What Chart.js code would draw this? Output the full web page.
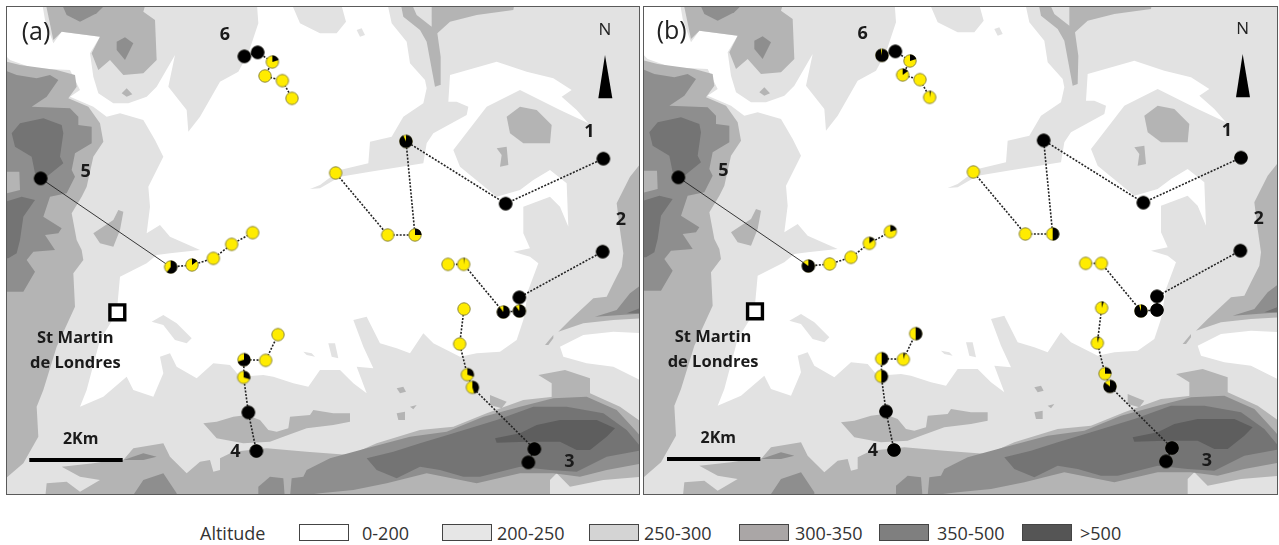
<!DOCTYPE html>
<html>
<head>
<meta charset="utf-8">
<style>
html, body { margin:0; padding:0; background:#fff; width:1279px; height:545px; overflow:hidden; }
canvas { position:absolute; top:7px; box-sizing:content-box; filter:blur(0.45px); outline:1.5px solid #5a5a5a; }
#mapA { left:7px; }
#mapB { left:644px; }
.lg { position:absolute; font:18px "Open Sans",sans-serif; color:#333; top:522px; line-height:22px; white-space:nowrap; }
.sw { position:absolute; top:524px; width:48px; height:15px; border:1.5px solid #444; box-sizing:content-box; }
</style>
<script src="https://cdn.jsdelivr.net/npm/chart.js@4/dist/chart.umd.min.js"></script>
</head>
<body>
<canvas id="mapA" width="632" height="487"></canvas>
<canvas id="mapB" width="633" height="487"></canvas>
<script>
// map units are 1/3 of a screen pixel
const altitudeLabels = ['0-200', '200-250', '250-300', '300-350', '350-500', '>500']
const altitudeColors = ['#ffffff', '#e6e6e6', '#d4d4d4', '#aaa6a6', '#7f7f7f', '#555555']

const terrainBase = [
  [[0,0],[2000,0],[2000,1600],[0,1600]]
]
const terrainWhite = [
  [[0,0],[125,0],[135,60],[160,130],[185,95],[300,110],[270,160],[280,230],[295,280],[340,310],[385,310],[440,290],[470,260],[525,165],[505,260],[560,330],[565,395],[600,350],[660,245],[715,215],[745,160],[775,70],[770,0],[870,0],[900,70],[960,100],[1010,100],[1038,65],[1020,0],[1160,0],[1175,70],[1220,125],[1230,190],[1275,240],[1280,265],[1270,310],[1210,350],[1175,410],[1110,425],[1105,490],[1020,510],[960,555],[930,567],[960,565],[1020,530],[1110,515],[1270,490],[1280,430],[1300,400],[1400,345],[1405,320],[1370,305],[1345,305],[1350,225],[1490,185],[1580,215],[1660,235],[1715,270],[1685,290],[1730,330],[1765,370],[1680,330],[1560,270],[1460,320],[1360,450],[1380,500],[1490,590],[1560,570],[1600,540],[1650,510],[1700,550],[1705,680],[1680,620],[1650,590],[1570,620],[1570,700],[1590,745],[1540,755],[1590,770],[1615,790],[1585,870],[1570,960],[1550,1020],[1500,1055],[1430,1060],[1380,1070],[1300,1030],[1270,1000],[1230,1060],[1190,1045],[1140,1030],[1100,950],[1060,960],[1090,1040],[1120,1105],[1070,1100],[1100,1180],[1060,1150],[1020,1110],[960,1110],[925,1160],[880,1150],[820,1130],[790,1125],[720,1130],[690,1095],[640,1090],[590,1135],[530,1100],[510,1060],[480,1070],[490,1120],[460,1190],[400,1170],[380,1130],[310,1190],[240,1220],[260,1170],[300,1020],[350,940],[360,830],[440,790],[470,765],[510,760],[600,750],[510,710],[480,675],[440,700],[450,620],[445,560],[490,470],[465,420],[430,360],[360,340],[320,350],[280,320],[210,290],[240,270],[210,210],[100,205],[30,180],[0,150]],
  [[1680,1040],[1750,1005],[1840,995],[1930,1000],[1930,1145],[1840,1100],[1760,1090],[1690,1070]]
]
const terrainLight = [
  [[1070,90],[1085,85],[1095,105],[1080,110]],
  [[455,965],[490,945],[530,970],[575,1015],[560,1030],[525,1020],[490,975]],
  [[985,1030],[1005,1030],[1015,1075],[995,1070]],
  [[910,1055],[935,1060],[945,1070],[920,1065]]
]
const terrainMid = [
  [[135,0],[160,120],[185,95],[300,110],[275,160],[295,210],[330,180],[370,225],[430,220],[470,180],[465,60],[430,35],[440,0]],
  [[380,265],[365,280],[380,290],[397,283]],
  [[0,180],[60,195],[170,210],[225,225],[230,260],[205,295],[265,320],[300,370],[310,425],[280,470],[260,560],[245,590],[215,640],[230,720],[245,750],[250,780],[220,820],[225,920],[170,1040],[130,1170],[110,1220],[115,1310],[70,1390],[0,1450]],
  [[280,700],[340,660],[355,630],[370,635],[360,690],[340,740],[300,730]],
  [[1200,0],[1210,50],[1260,90],[1280,125],[1305,260],[1320,255],[1322,170],[1312,100],[1350,65],[1430,45],[1540,30],[1545,0],[1295,0],[1295,80],[1250,45],[1230,0]],
  [[1520,350],[1560,320],[1610,330],[1655,375],[1650,430],[1570,430],[1530,400]],
  [[1490,445],[1520,440],[1525,495],[1500,500],[1505,465]],
  [[1930,480],[1890,530],[1850,610],[1860,690],[1870,760],[1865,800],[1840,850],[1820,890],[1780,895],[1710,960],[1675,995],[1750,970],[1840,960],[1930,955]],
  [[1635,1035],[1660,1005],[1660,1015],[1645,1035]],
  [[135,1500],[140,1450],[200,1445],[240,1475],[300,1440],[240,1430],[185,1400],[280,1390],[340,1380],[370,1380],[400,1345],[490,1330],[510,1370],[560,1420],[600,1385],[630,1380],[640,1415],[660,1410],[660,1375],[700,1355],[800,1345],[920,1355],[1050,1365],[1130,1330],[1260,1290],[1360,1280],[1460,1240],[1570,1200],[1660,1190],[1770,1180],[1860,1220],[1930,1270],[1930,1500]],
  [[1615,1125],[1695,1110],[1770,1135],[1770,1185],[1655,1195],[1655,1150]],
  [[1470,1185],[1520,1205],[1505,1225],[1470,1215]],
  [[610,1270],[650,1265],[700,1250],[740,1245],[780,1260],[805,1290],[830,1295],[865,1285],[870,1250],[930,1245],[940,1230],[1000,1240],[1050,1240],[1050,1265],[1000,1275],[920,1285],[850,1310],[810,1325],[730,1330],[650,1315]],
  [[1190,1165],[1210,1160],[1218,1175],[1200,1180]],
  [[1190,1240],[1215,1235],[1215,1260],[1195,1260]],
  [[1230,1220],[1250,1215],[1240,1228]]
]
const terrainLightTop = [
  [[1650,1500],[1650,1440],[1670,1420],[1710,1460],[1810,1440],[1930,1430],[1930,1500]]
]
const terrainHigh = [
  [[180,0],[330,0],[290,40],[240,65],[200,45]],
  [[350,125],[375,112],[400,130],[375,180],[350,150]],
  [[0,205],[50,225],[110,235],[150,225],[175,240],[140,290],[95,320],[210,325],[235,350],[235,375],[275,380],[275,430],[225,460],[215,510],[225,530],[200,580],[150,590],[130,650],[185,685],[175,700],[135,705],[165,750],[100,755],[80,780],[105,815],[70,875],[0,875]],
  [[870,1490],[875,1435],[910,1430],[920,1410],[990,1375],[1100,1345],[1230,1310],[1340,1295],[1450,1250],[1560,1220],[1660,1195],[1760,1190],[1850,1230],[1910,1295],[1930,1320],[1930,1390],[1820,1410],[1740,1430],[1660,1420],[1560,1420],[1430,1450],[1280,1420],[1160,1450],[1060,1470],[960,1480]],
  [[775,1500],[775,1460],[810,1430],[850,1435],[855,1500]],
  [[390,1500],[430,1440],[490,1420],[530,1480],[530,1500]],
  [[370,1380],[430,1360],[470,1370],[430,1380]],
  [[1785,950],[1850,930],[1890,880],[1930,850],[1930,940]]
]
const terrainIsland = [
  [[0,515],[58,515],[60,570],[0,585]]
]
const terrainDark = [
  [[35,400],[60,370],[130,355],[185,375],[190,400],[180,470],[190,490],[140,530],[105,520],[95,470],[45,440]],
  [[0,610],[65,590],[105,600],[70,650],[60,720],[50,760],[25,775],[0,775]],
  [[1100,1375],[1180,1355],[1260,1330],[1360,1300],[1490,1260],[1600,1220],[1700,1220],[1810,1240],[1880,1290],[1930,1350],[1820,1370],[1730,1415],[1650,1410],[1560,1400],[1440,1430],[1390,1430],[1320,1410],[1260,1400],[1190,1435],[1130,1410]],
  [[1880,940],[1930,920],[1930,940]]
]
const terrainPeak = [
  [[1485,1315],[1560,1300],[1610,1275],[1680,1260],[1790,1260],[1845,1285],[1820,1310],[1770,1350],[1730,1350],[1680,1325],[1580,1325],[1490,1328]]
]

// transects, same stations in both panels
const site1X = [1810, 1517, 1218, 1245, 1163, 1007]
const site1Y = [476, 611, 424, 705, 705, 519]
const site2X = [1808, 1558, 1558, 1510, 1391, 1344]
const site2Y = [755, 892, 933, 936, 793, 793]
const site3X = [1585, 1603, 1417, 1402, 1379, 1392]
const site3Y = [1387, 1347, 1162, 1124, 1032, 927]
const site4X = [769, 745, 731, 732, 797, 834]
const site4Y = [1353, 1237, 1132, 1079, 1081, 1004]
const site5X = [122, 512, 576, 640, 695, 758]
const site5Y = [535, 801, 795, 775, 733, 698]
const site6X = [733, 773, 817, 795, 847, 876]
const site6Y = [169, 157, 186, 228, 242, 295]

// share of black in each pie
const blackA1 = [1, 1, 0.93, 0.25, 0, 0]
const blackA2 = [1, 1, 0.9, 0.9, 0.02, 0]
const blackA3 = [1, 1, 0.45, 0.3, 0, 0]
const blackA4 = [1, 1, 0.3, 0.7, 0, 0]
const blackA5 = [1, 0.6, 0.15, 0, 0, 0]
const blackA6 = [1, 1, 0.2, 0, 0, 0]
const blackB1 = [1, 1, 1, 0.5, 0, 0]
const blackB2 = [1, 1, 1, 0.95, 0, 0]
const blackB3 = [1, 1, 0.85, 0.25, 0.05, 0.05]
const blackB4 = [1, 1, 0.5, 0.5, 0.05, 0.5]
const blackB5 = [1, 0.85, 0, 0, 0.15, 0.2]
const blackB6 = [0.97, 1, 0.2, 0.15, 0, 0.03]

const siteNames = ['1', '2', '3', '4', '5', '6']
const siteNameX = [1768, 1863, 1708, 706, 257, 675]
const siteNameY = [395, 660, 1387, 1355, 515, 105]

const arrowX = [1815, 1795, 1837, 1815]
const arrowY = [165, 295, 295, 165]
const scaleBarX = [88, 368]
const scaleBarY = [1380, 1380]
const townX = [352]
const townY = [937]

const pieCache = {}
function pieIcon(share) {
  if (pieCache[share]) return pieCache[share]
  const c = document.createElement('canvas')
  c.width = 16
  c.height = 16
  const g = c.getContext('2d')
  const start = -Math.PI / 2
  g.beginPath()
  g.arc(8, 8, 6.2, 0, Math.PI * 2)
  g.fillStyle = '#ffec00'
  g.fill()
  g.lineWidth = 1
  g.strokeStyle = share >= 1 ? '#000' : '#8f8a40'
  g.stroke()
  if (share > 0) {
    g.beginPath()
    g.moveTo(8, 8)
    g.arc(8, 8, 6.6, start, start + share * Math.PI * 2)
    g.closePath()
    g.fillStyle = '#000'
    g.fill()
  }
  pieCache[share] = c
  return c
}

function polygons(list, color, order) {
  return list.map(poly => {
    const pts = poly.concat([poly[0]])
    return {
      data: pts.map(p => ({ x: p[0], y: p[1] })),
      showLine: true,
      fill: 'shape',
      backgroundColor: color,
      borderColor: color,
      borderWidth: 0,
      pointRadius: 0,
      order: order
    }
  })
}

function transect(xs, ys, black, thinFirst) {
  return {
    data: xs.map((x, i) => ({ x: x, y: ys[i] })),
    showLine: true,
    borderColor: '#222',
    borderWidth: 1.6,
    borderDash: [2, 1.5],
    pointStyle: black.map(pieIcon),
    pointRadius: 7,
    segment: thinFirst ? {
      borderWidth: c => c.p0DataIndex === 0 ? 0.9 : 1.6,
      borderDash: c => c.p0DataIndex === 0 ? [] : [2, 1.5]
    } : undefined,
    order: 1
  }
}

const mapText = {
  id: 'mapText',
  afterDatasetsDraw(chart, args, opts) {
    const g = chart.ctx
    const sx = chart.scales.x
    const sy = chart.scales.y
    const put = (t, x, y, font, color) => {
      g.font = font
      g.fillStyle = color || '#1a1a1a'
      g.textAlign = 'center'
      g.textBaseline = 'middle'
      g.fillText(t, sx.getPixelForValue(x), sy.getPixelForValue(y))
    }
    g.save()
    siteNames.forEach((n, i) => put(n, siteNameX[i], siteNameY[i], 'bold 18px "Open Sans"'))
    put(opts.title, opts.titleX, 100, '25px "Open Sans"', '#222')
    put('N', 1815, 90, '17px "Open Sans"', '#222')
    put('St Martin', 226, 1015, 'bold 16.5px "Open Sans"')
    put('de Londres', 226, 1090, 'bold 16.5px "Open Sans"')
    put('2Km', 242, 1318, 'bold 16px "Open Sans"')
    g.restore()
  }
}

function drawMap(id, title, titleX, xMin, xMax, yMin, yMax, sites) {
  const datasets = [].concat(
    polygons(terrainBase, '#e2e2e2', 20),
    polygons(terrainWhite, '#ffffff', 19),
    polygons(terrainLight, '#e2e2e2', 18),
    polygons(terrainMid, '#b4b4b4', 17),
    polygons(terrainLightTop, '#e2e2e2', 16),
    polygons(terrainHigh, '#8e8e8e', 15),
    polygons(terrainIsland, '#b4b4b4', 14),
    polygons(terrainDark, '#747474', 13),
    polygons(terrainPeak, '#5e5e5e', 12),
    sites,
    [{
      data: arrowX.map((x, i) => ({ x: x, y: arrowY[i] })),
      showLine: true, fill: 'shape', backgroundColor: '#000', borderColor: '#000', borderWidth: 0, pointRadius: 0, order: 2
    }, {
      data: scaleBarX.map((x, i) => ({ x: x, y: scaleBarY[i] })),
      showLine: true, borderColor: '#000', borderWidth: 4, pointRadius: 0, order: 2
    }, {
      data: townX.map((x, i) => ({ x: x, y: townY[i] })),
      pointStyle: 'rect', pointRadius: 10.5, backgroundColor: '#fff', borderColor: '#000', borderWidth: 3.4, order: 2
    }]
  )
  new Chart(document.getElementById(id), {
    type: 'scatter',
    data: { datasets: datasets },
    options: {
      responsive: false,
      animation: false,
      layout: { padding: 0, autoPadding: false },
      elements: { line: { tension: 0 } },
      scales: {
        x: { type: 'linear', min: xMin, max: xMax, display: false },
        y: { type: 'linear', min: yMin, max: yMax, reverse: true, display: false }
      },
      plugins: {
        legend: { display: false },
        tooltip: { enabled: false },
        mapText: { title: title, titleX: titleX }
      }
    },
    plugins: [mapText]
  })
}

drawMap('mapA', '(a)', 108, 21, 1917, 21, 1482, [
  transect(site1X, site1Y, blackA1),
  transect(site2X, site2Y, blackA2),
  transect(site3X, site3Y, blackA3),
  transect(site4X, site4Y, blackA4),
  transect(site5X, site5Y, blackA5, true),
  transect(site6X, site6Y, blackA6)
])
drawMap('mapB', '(b)', 102, 19, 1918, 24, 1485, [
  transect(site1X, site1Y, blackB1),
  transect(site2X, site2Y, blackB2),
  transect(site3X, site3Y, blackB3),
  transect(site4X, site4Y, blackB4),
  transect(site5X, site5Y, blackB5, true),
  transect(site6X, site6Y, blackB6)
])

// legend
function addLegend(cls, text, left, color) {
  const el = document.createElement('div')
  el.className = cls
  el.style.left = left + 'px'
  if (text) el.textContent = text
  if (color) el.style.background = color
  document.body.appendChild(el)
}
const swatchLeft = [299, 442, 589, 739, 879, 1022]
const labelLeft = [362, 497, 644, 795, 937, 1080]
addLegend('lg', 'Altitude', 200)
altitudeLabels.forEach((t, i) => {
  addLegend('sw', '', swatchLeft[i], altitudeColors[i])
  addLegend('lg', t, labelLeft[i])
})
</script>
</body>
</html>
